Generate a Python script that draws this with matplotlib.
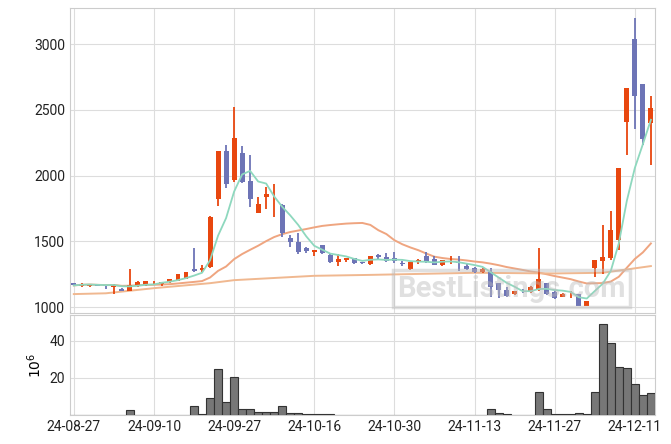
import matplotlib
matplotlib.use("Agg")
import matplotlib.pyplot as plt
import numpy as np
import pandas as pd

plt.rcParams['font.family'] = ['Roboto', 'DejaVu Sans']

holidays = ['2024-09-16', '2024-09-17', '2024-09-18', '2024-10-01', '2024-10-03', '2024-10-09']
dates = [d for d in pd.bdate_range('2024-08-27', '2024-12-13') if d.strftime('%Y-%m-%d') not in holidays]
labels = [d.strftime('%y-%m-%d') for d in dates]

opens = [1180,1160,1160,1175,1165,1150,1140,1120,1160,1170,1180,1175,1190,1200,1215,1290,1282,1306,1821,2186,
         1965,2170,1958,1717,1838,1788,1775,1524,1494,1448,1420,1471,1395,1345,1360,1372,1342,1329,1395,1380,
         1372,1332,1291,1340,1388,1367,1324,1340,1344,1311,1296,1268,1264,1180,1129,1099,1124,1116,1129,1180,
         1114,1078,1096,1096,1010,1299,1352,1375,1509,2408,3037,2695,2404]
highs = [1185,1180,1178,1178,1170,1175,1145,1290,1200,1200,1195,1190,1210,1250,1270,1450,1320,1690,2186,2231,
         2520,2225,2155,1838,1914,1935,1785,1547,1562,1460,1435,1475,1410,1403,1375,1372,1345,1390,1405,1413,
         1418,1350,1340,1365,1420,1385,1360,1392,1388,1330,1305,1295,1300,1185,1150,1122,1135,1160,1453,1185,
         1130,1108,1122,1100,1050,1360,1628,1732,2059,2664,3202,2700,2606]
lows = [1160,1150,1155,1160,1140,1100,1120,1120,1150,1160,1170,1160,1180,1200,1210,1270,1265,1300,1770,1904,
        1950,1945,1762,1717,1745,1684,1535,1458,1403,1415,1388,1405,1335,1314,1340,1330,1325,1320,1360,1345,
        1335,1310,1285,1325,1335,1320,1315,1330,1276,1280,1262,1262,1078,1070,1080,1090,1110,1105,1120,1090,
        1065,1075,1070,1005,1005,1230,1251,1357,1438,2160,2358,2231,2079]
closes = [1165,1175,1175,1162,1160,1170,1125,1170,1190,1195,1182,1190,1210,1250,1270,1278,1298,1686,2186,1937,
          2284,1952,1821,1783,1859,1792,1562,1494,1418,1426,1432,1413,1345,1365,1372,1337,1338,1388,1378,1352,
          1350,1328,1340,1362,1344,1324,1357,1350,1332,1291,1268,1288,1150,1129,1088,1119,1120,1150,1210,1096,
          1071,1099,1100,1010,1046,1357,1380,1585,2059,2664,2606,2282,2512]
volumes = [0.2,0.2,0.2,0.2,0.2,0.2,0.2,2.6,0.2,0.2,0.2,0.2,0.2,0.2,0.2,5.1,0.5,9.4,24.8,7.3,
           20.5,3.2,3.2,1.6,1.6,1.6,4.8,1.0,1.0,0.5,0.5,0.8,0.8,0.3,0.3,0.3,0.3,0.3,0.3,0.1,
           0.3,0.3,0.1,0.1,0.1,0.3,0.1,0.1,0.3,0.3,0.3,0.1,3.2,1.2,0.5,0.1,0.1,0.1,12.7,3.2,
           0.5,0.5,0.5,1.0,0.5,12.2,49.2,38.6,25.8,25.3,16.8,10.6,12.0]
ma_long_idx = [0, 4, 10, 17, 20, 30, 37, 50, 60, 66, 72]
ma_long_val = [1099, 1105, 1144, 1182, 1205, 1238, 1245, 1261, 1256, 1261, 1312]

n = len(closes)
x = np.arange(n)
c = pd.Series(closes)
ma5 = c.rolling(5, min_periods=1).mean()
ma20 = c.rolling(20, min_periods=1).mean()

UP = '#E8470F'
DOWN = '#6D74B6'

fig = plt.figure(figsize=(6.71, 4.44), dpi=100)
ax = fig.add_axes([0.104, 0.295, 0.872, 0.687])
axv = fig.add_axes([0.104, 0.065, 0.872, 0.226], sharex=ax)

for a in (ax, axv):
    a.grid(True, color='#dddddd', linewidth=0.8)
    a.set_axisbelow(True)
    for s in a.spines.values():
        s.set_color('#cccccc')
    a.tick_params(length=0, labelsize=10, colors='#222222')

for i in range(n):
    o, h, l, cl = opens[i], highs[i], lows[i], closes[i]
    col = UP if cl >= o else DOWN
    ax.vlines(x[i], l, h, color=col, linewidth=1.3, zorder=3)
    bh = max(abs(cl - o), 4)
    ax.bar(x[i], bh, bottom=min(o, cl), width=0.62, color=col, zorder=4)

ax.plot(x, ma5, color='#8ED8BE', linewidth=1.3, zorder=5)
ax.plot(x, ma20, color='#EFA580', linewidth=1.4, zorder=2)
ax.plot(ma_long_idx, ma_long_val, color='#F0B890', linewidth=1.4, zorder=2)

ax.set_ylim(955, 3275)
ax.set_yticks([1000, 1500, 2000, 2500, 3000])
ax.set_xlim(-0.5, n - 0.5)
plt.setp(ax.get_xticklabels(), visible=False)

ax.text(0.755, 0.08, 'BestListings.com', transform=ax.transAxes, fontsize=21, fontweight='bold',
        color='#bbbbbb', alpha=0.45, ha='center', va='center', zorder=6,
        bbox=dict(boxstyle='square,pad=0.15', fc='none', ec='#bbbbbb', lw=2.5, alpha=0.45))

axv.bar(x, volumes, width=1.0, color='#777777', edgecolor='#333333', linewidth=0.8, zorder=3)
axv.set_ylim(0, 54)
axv.set_yticks([20, 40])
axv.set_ylabel('$10^6$', fontsize=10)
ticks = list(range(0, n, 10))
axv.set_xticks(ticks)
axv.set_xticklabels([labels[t] for t in ticks])

fig.savefig('out.png', dpi=100)
